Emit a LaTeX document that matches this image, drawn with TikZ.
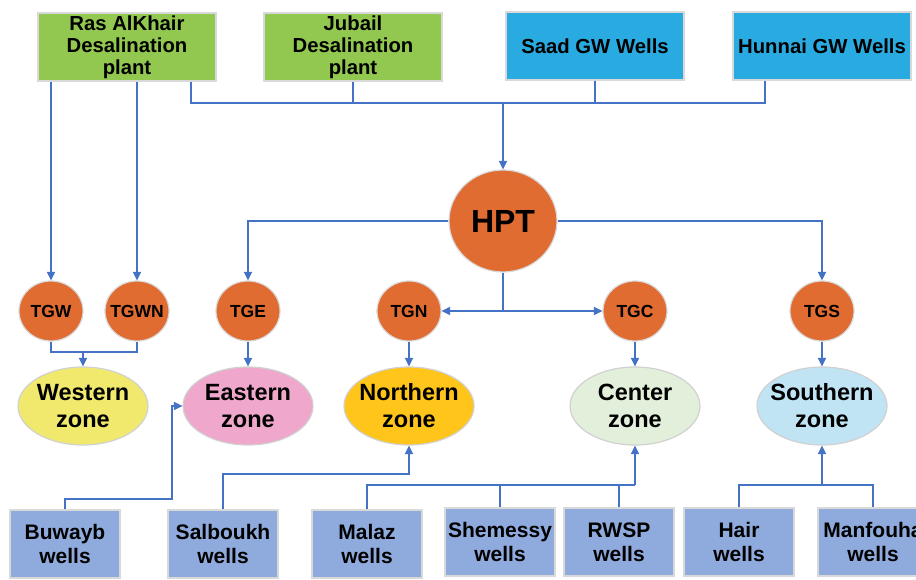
\documentclass[tikz,border=0pt]{standalone}
\usepackage{fontspec}
\setmainfont{Liberation Sans}
\usetikzlibrary{arrows.meta,shapes.geometric}
\definecolor{lineblue}{RGB}{68,114,196}
\definecolor{plantgreen}{RGB}{146,200,80}
\definecolor{gwblue}{RGB}{41,171,226}
\definecolor{tankorange}{RGB}{224,108,50}
\definecolor{wellblue}{RGB}{143,170,220}
\definecolor{zwestfill}{RGB}{240,233,110}
\definecolor{zeastfill}{RGB}{239,167,203}
\definecolor{znorthfill}{RGB}{255,197,26}
\definecolor{zcenterfill}{RGB}{226,239,218}
\definecolor{zsouthfill}{RGB}{192,228,244}
\begin{document}
\begin{tikzpicture}[x=1pt,y=-1pt,
    flow/.style={draw=lineblue, line width=1.4pt},
    arr/.style={flow, -{Triangle[length=8.5pt,width=8pt]}},
    srcbox/.style={rectangle, draw=black!15, line width=1.2pt, minimum width=178pt, minimum height=68pt,
      inner sep=0pt, align=center, font=\fontsize{20.3}{22}\selectfont\bfseries},
    wellbox/.style={rectangle, draw=black!15, line width=1.2pt, fill=wellblue, minimum width=110pt,
      minimum height=68pt, inner sep=0pt, align=center, font=\fontsize{21}{24}\selectfont\bfseries},
    tank/.style={ellipse, draw=black!15, line width=1.2pt, fill=tankorange, minimum width=64pt,
      minimum height=60pt, inner sep=0pt},
    tanktext/.style={inner sep=0pt, font=\fontsize{17.5}{20}\selectfont\bfseries},
    zone/.style={ellipse, draw=black!18, line width=1.2pt, minimum width=130pt, minimum height=78pt, inner sep=0pt},
    zonetext/.style={inner sep=0pt, align=center, font=\fontsize{23.5}{27}\selectfont\bfseries}]
  \clip (0,0) rectangle (916,579);
  % sources
  \node [srcbox, fill=plantgreen] (ras) at (127,47) {Ras AlKhair\\Desalination\\plant};
  \node [srcbox, fill=plantgreen] (jubail) at (353,47) {Jubail\\Desalination\\plant};
  \node [srcbox, fill=gwblue] (saad) at (595,46) {Saad GW Wells};
  \node [srcbox, fill=gwblue] (hunnai) at (822,46) {Hunnai GW Wells};
  % main station and tanks
  \node [ellipse, draw=black!15, line width=1.2pt, fill=tankorange, minimum width=108pt, minimum height=102pt,
    inner sep=0pt, font=\fontsize{32}{36}\selectfont\bfseries] (hpt) at (503,221) {HPT};
  \node [tank, label={[tanktext]center:TGW}] (tgw) at (51,311) {};
  \node [tank, label={[tanktext]center:TGWN}] (tgwn) at (137,311) {};
  \node [tank, label={[tanktext]center:TGE}] (tge) at (248,311) {};
  \node [tank, label={[tanktext]center:TGN}] (tgn) at (409,311) {};
  \node [tank, label={[tanktext]center:TGC}] (tgc) at (635,311) {};
  \node [tank, label={[tanktext]center:TGS}] (tgs) at (822,311) {};
  % zones
  \node [zone, fill=zwestfill, label={[zonetext]center:Western\\zone}] (zwest) at (83,406) {};
  \node [zone, fill=zeastfill, label={[zonetext]center:Eastern\\zone}] (zeast) at (248,406) {};
  \node [zone, fill=znorthfill, label={[zonetext]center:Northern\\zone}] (znorth) at (409,406) {};
  \node [zone, fill=zcenterfill, label={[zonetext]center:Center\\zone}] (zcenter) at (635,406) {};
  \node [zone, fill=zsouthfill, label={[zonetext]center:Southern\\zone}] (zsouth) at (822,406) {};
  % wells
  \node [wellbox] (buwayb) at (65,544) {Buwayb\\wells};
  \node [wellbox] (salboukh) at (223,544) {Salboukh\\wells};
  \node [wellbox] (malaz) at (367,544) {Malaz\\wells};
  \node [wellbox] (shemessy) at (500,542) {Shemessy\\wells};
  \node [wellbox] (rwsp) at (619,542) {RWSP\\wells};
  \node [wellbox] (hair) at (739,542) {Hair\\wells};
  \node [wellbox] (manfouha) at (873,542) {Manfouha\\wells};
  % junction points
  \coordinate (busA) at (191,103);
  \coordinate (busB) at (765,103);
  \coordinate (wbus) at (83,352);
  \coordinate (bwturn) at (172,499);
  \coordinate (sbturn) at (409,474);
  \coordinate (cbus) at (635,485);
  \coordinate (sbus) at (822,485);
  % source lines
  \draw [arr] (tgw |- ras.south) -- (tgw);
  \draw [arr] (tgwn |- ras.south) -- (tgwn);
  \draw [flow] (busA |- ras.south) -- (busA) -- (busB) -- (busB |- hunnai.south);
  \draw [flow] (jubail) -- (jubail |- busA);
  \draw [flow] (saad) -- (saad |- busA);
  \draw [arr] (hpt |- busA) -- (hpt);
  % distribution
  \draw [arr] (hpt) -| (tge);
  \draw [arr] (hpt) -| (tgs);
  \draw [flow] (hpt) -- (hpt |- tgn);
  \draw [arr] (hpt |- tgn) -- (tgn);
  \draw [arr] (hpt |- tgn) -- (tgc);
  \draw [flow] (tgw) |- (wbus) -| (tgwn);
  \draw [arr] (wbus) -- (zwest);
  \draw [arr] (tge) -- (zeast);
  \draw [arr] (tgn) -- (znorth);
  \draw [arr] (tgc) -- (zcenter);
  \draw [arr] (tgs) -- (zsouth);
  % wells to zones
  \draw [arr] (buwayb) |- (bwturn) |- (zeast);
  \draw [arr] (salboukh) |- (sbturn) -- (znorth);
  \draw [flow] (malaz) |- (cbus);
  \draw [flow] (shemessy) -- (shemessy |- cbus);
  \draw [flow] (rwsp) -- (rwsp |- cbus);
  \draw [arr] (cbus) -- (zcenter);
  \draw [flow] (hair) |- (sbus) -| (manfouha);
  \draw [arr] (sbus) -- (zsouth);
\end{tikzpicture}
\end{document}
